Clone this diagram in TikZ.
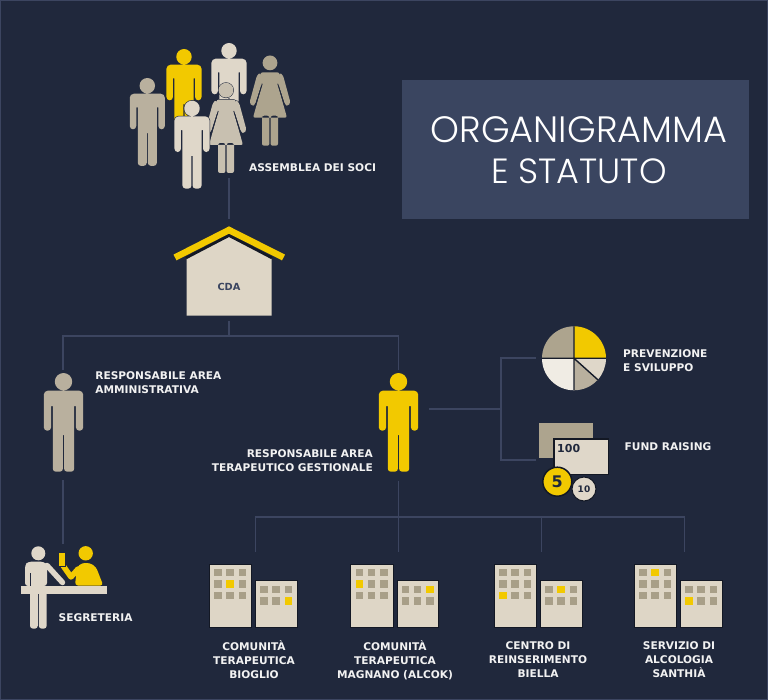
\documentclass[tikz,border=0pt]{standalone}
\usepackage{fontspec}
\setmainfont{DejaVu Sans}
\newfontfamily\titlefont{Poppins Light}
\definecolor{bgc}{HTML}{20283C}
\definecolor{linec}{HTML}{3C4560}
\definecolor{boxc}{HTML}{3A4560}
\definecolor{yel}{HTML}{F2C900}
\definecolor{cream}{HTML}{DFD7C9}
\definecolor{tan}{HTML}{C8C0B0}
\definecolor{tanb}{HTML}{B9B09E}
\definecolor{brn}{HTML}{ADA48E}
\definecolor{win}{HTML}{A89F88}
\definecolor{bld}{HTML}{DED6C6}
\definecolor{pale}{HTML}{F0ECE4}
\definecolor{txt}{HTML}{F2F2F2}
\tikzset{
  lbl/.style={font=\fontsize{10.6}{14}\selectfont\bfseries,text=txt,inner sep=0pt,align=left},
  lblc/.style={lbl,align=center},
  lblr/.style={lbl,align=right},
  conn/.style={draw=linec,line width=1.5pt},
}
\newcommand\manbody{(0,8.7) circle[radius=8.7]
  [rounded corners=4pt] (-19.7,17.7) rectangle (19.7,33)
  [rounded corners=3.4pt] (-19.7,24) rectangle (-12.4,57.7)
  (12.4,24) rectangle (19.7,57.7)
  [rounded corners=0pt] (-10.7,24) rectangle (10.7,62)
  [rounded corners=3pt] (-10.7,55) rectangle (-0.6,98.7)
  (0.6,55) rectangle (10.7,98.7)}
\newcommand\manfig[4]{\begin{scope}[shift={(#1,#2)},scale=#3]
  \draw[bgc,line width=1.2pt] \manbody;
  \fill[#4] \manbody;
\end{scope}}
\newcommand\womanbody{(0,7.2) circle[radius=7.4]
  [rounded corners=2pt] (-9.5,16.7) -- (9.5,16.7) -- (8,30) -- (17,62) -- (-17,62) -- (-8,30) -- cycle
  (-8,60) rectangle (-0.6,90)
  (0.6,60) rectangle (8,90)
  [rounded corners=2.5pt] (-9.5,16.7) -- (-13,19.5) -- (-20.5,47) -- (-18,50.5) -- (-15,49) -- (-8,27) -- cycle
  (9.5,16.7) -- (13,19.5) -- (20.5,47) -- (18,50.5) -- (15,49) -- (8,27) -- cycle}
\newcommand\womanfig[4]{\begin{scope}[shift={(#1,#2)},scale=#3]
  \draw[bgc,line width=1pt] \womanbody;
  \fill[#4] \womanbody;
  \draw[bgc,line width=.8pt] (-7.7,28) -- (-14.5,49.5) (7.7,28) -- (14.5,49.5);
\end{scope}}
% building: x0, col/row of yellow windows
\newcommand\bldfig[5]{\begin{scope}[shift={(#1,564)}]
  \fill[bld,draw=bgc!60!black,line width=.6pt] (0,0) rectangle (42.4,63);
  \fill[bld,draw=bgc!60!black,line width=.6pt] (46.4,16) rectangle (88,63);
  \foreach \cx/\xx in {1/8.7,2/20.7,3/33.4}{\foreach \ry/\yy in {1/8.3,2/20,3/31.3}{
    \edef\cell{\cx\ry}\edef\tgt{#2#3}
    \ifx\cell\tgt\def\wc{yel}\else\def\wc{win}\fi
    \fill[\wc] (\xx-3.7,\yy-3.7) rectangle (\xx+3.7,\yy+3.7);}}
  \foreach \cx/\xx in {1/54.7,2/66.7,3/79.4}{\foreach \ry/\yy in {1/25.7,2/37}{
    \edef\cell{\cx\ry}\edef\tgt{#4#5}
    \ifx\cell\tgt\def\wc{yel}\else\def\wc{win}\fi
    \fill[\wc] (\xx-3.7,\yy-3.7) rectangle (\xx+3.7,\yy+3.7);}}
\end{scope}}
\begin{document}
\begin{tikzpicture}[x=1pt,y=-1pt]
\useasboundingbox (0,0) rectangle (768,700);
\fill[bgc] (0,0) rectangle (768,700);
\draw[linec,line width=1pt] (0.5,0.5) rectangle (767.5,699.5);

% title
\fill[boxc] (402,80) rectangle (749,219);
\node[font=\titlefont\fontsize{36.7}{41}\selectfont,text=white,align=center,inner sep=0pt] (title) at (579,150) {ORGANIGRAMMA\\\fontsize{35}{41}\selectfont E STATUTO};

% named connector ends
\coordinate (soci) at (229,178);
\coordinate (cdaT) at (229,219);
\coordinate (cdaB) at (229,321);
\coordinate (hub) at (229,336);
\coordinate (hubL) at (63,336);
\coordinate (hubR) at (398.5,336);
\coordinate (respAT) at (63,370);
\coordinate (respGT) at (398.5,370);
\coordinate (respAB) at (63,480);
\coordinate (segT) at (63,544);
\coordinate (respGB) at (398.5,481);
\coordinate (comm2T) at (398.5,552);
\coordinate (busL) at (255.7,517);
\coordinate (busR) at (684.5,517);
\coordinate (bus3) at (541.7,517);
\coordinate (comm1T) at (255.7,552);
\coordinate (comm3T) at (541.7,552);
\coordinate (comm4T) at (684.5,552);
\coordinate (respGR) at (429,409);
\coordinate (jct) at (501,409);
\coordinate (piejT) at (501,358);
\coordinate (piejB) at (501,460);
\coordinate (pieL) at (536,358);
\coordinate (fundL) at (536,460);

\draw[conn] (soci) -- (cdaT);
\draw[conn] (cdaB) -- (hub);
\draw[conn] (respAT) -- (hubL) -- (hubR) -- (respGT);
\draw[conn] (respAB) -- (segT);
\draw[conn] (respGB) -- (comm2T);
\draw[conn] (comm1T) -- (busL) -- (busR) -- (comm4T);
\draw[conn] (bus3) -- (comm3T);
\draw[conn] (respGR) -- (jct);
\draw[conn] (pieL) -- (piejT) -- (piejB) -- (fundL);

% crowd
\manfig{229}{43}{.89}{cream}
\womanfig{270}{55.7}{1}{brn}
\manfig{184}{49}{.89}{yel}
\manfig{147.3}{78}{.89}{tanb}
\womanfig{226}{83}{1}{tan}
\manfig{192}{100.7}{.89}{cream}
\node[lbl,anchor=west] (assemblea) at (249,168) {ASSEMBLEA DEI SOCI};

% CDA house
\fill[bld] (186.7,315.7) -- (186.7,258) -- (229,237) -- (271.7,258) -- (271.7,315.7) -- cycle;
\draw[bgc!60!black,line width=2.6pt] (186,258) -- (229,235.5) -- (272,258);
\draw[yel,line width=6.5pt,miter limit=10] (175,257.5) -- (229,230) -- (283.5,257.5);
\node[font=\fontsize{9.8}{10}\selectfont\bfseries,text=boxc,inner sep=0pt] (cda) at (229,287) {CDA};

% responsabili
\manfig{63.5}{373}{1}{tanb}
\manfig{398.5}{373}{1}{yel}
\node[lbl,anchor=north west] (respA) at (95.2,371) {RESPONSABILE AREA\\AMMINISTRATIVA};
\node[lblr,anchor=north east] (respG) at (373,449) {RESPONSABILE AREA\\TERAPEUTICO GESTIONALE};

% pie
\begin{scope}[shift={(574,358.3)},yscale=-1]
  \fill[yel] (0,0) -- (32,0) arc[start angle=0,end angle=90,radius=32] -- cycle;
  \fill[brn] (0,0) -- (0,32) arc[start angle=90,end angle=180,radius=32] -- cycle;
  \fill[pale] (0,0) -- (-32,0) arc[start angle=180,end angle=270,radius=32] -- cycle;
  \fill[tanb] (0,0) -- (0,-32) arc[start angle=270,end angle=318,radius=32] -- cycle;
  \fill[cream] (0,0) -- (318:32) arc[start angle=318,end angle=360,radius=32] -- cycle;
  \draw[bgc!70!black,line width=1.4pt] (-32,0) -- (32,0) (0,-32) -- (0,32) (0,0) -- (318:32);
\end{scope}
\node[lbl,anchor=north west] (prev) at (623,349) {PREVENZIONE\\E SVILUPPO};

% fund raising
\fill[brn] (539.3,422.7) rectangle (593.3,458);
\fill[cream,draw=bgc!60!black,line width=1.2pt] (554,439) rectangle (608.7,474.3);
\node[font=\fontsize{11}{12}\selectfont\bfseries,text=bgc,inner sep=0pt,anchor=west] (cent) at (557,448.5) {100};
\fill[yel,draw=bgc!60!black,line width=1.5pt] (557.3,481.7) circle[radius=14.5];
\node[font=\fontsize{16}{17}\selectfont\bfseries,text=bgc,inner sep=0pt] (cinque) at (557.3,481.7) {5};
\fill[cream,draw=bgc!60!black,line width=1pt] (584,489) circle[radius=12];
\node[font=\fontsize{9}{10}\selectfont\bfseries,text=bgc,inner sep=0pt] (dieci) at (584,489) {10};
\node[lbl,anchor=west] (fund) at (624.5,447) {FUND RAISING};

% segreteria
\fill[yel] (85.7,553.3) circle[radius=7.2];
\fill[yel,rounded corners=3pt] (75,585.5) -- (77,567) -- (82,563) -- (90,563) -- (96,567) -- (103.3,585.5) -- cycle;
\draw[yel,line width=5.5pt,line join=round,line cap=round] (63.3,566) -- (71,577) -- (78,569);
\fill[yel] (58.3,552.7) rectangle (65,566.7);
\draw[bgc,line width=.8pt] (58.3,552.7) rectangle (65,566.7);
\fill[cream] (38.3,553.3) circle[radius=7];
\draw[cream,line width=5.5pt,line cap=round] (47,565.5) -- (62.5,582.5);
\fill[cream,rounded corners=3pt] (25,586) -- (25,565) -- (28,561.7) -- (44,561.7) -- (47,565) -- (47,586) -- cycle;
\draw[bgc,line width=.9pt] (30,573) -- (30,586);
\fill[cream,rounded corners=3pt] (30,590) rectangle (37.8,628.7);
\fill[cream,rounded corners=3pt] (38.8,590) rectangle (46.7,628.7);
\fill[cream] (20.7,585.7) rectangle (107.3,594);
\node[lbl,anchor=west] (segr) at (58.5,618) {SEGRETERIA};

% buildings
\bldfig{209.3}{2}{2}{3}{2}
\bldfig{350.7}{1}{2}{3}{1}
\bldfig{494.3}{1}{3}{2}{1}
\bldfig{634.3}{2}{1}{1}{2}
\node[lblc,anchor=north] (c1) at (254,640) {COMUNITÀ\\TERAPEUTICA\\BIOGLIO};
\node[lblc,anchor=north] (c2) at (395,640) {COMUNITÀ\\TERAPEUTICA\\MAGNANO (ALCOK)};
\node[lblc,anchor=north] (c3) at (538,641) {CENTRO DI\\REINSERIMENTO\\BIELLA};
\node[lblc,anchor=north] (c4) at (679,641) {SERVIZIO DI\\ALCOLOGIA\\SANTHIÀ};
\end{tikzpicture}
\end{document}
